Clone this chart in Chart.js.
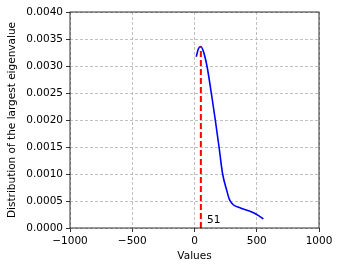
<!DOCTYPE html>
<html>
<head>
<meta charset="utf-8">
<script src="https://cdn.jsdelivr.net/npm/chart.js@4"></script>
<style>
  html, body { margin: 0; padding: 0; background: #fff; }
  #chart { display: block; }
</style>
</head>
<body>
<canvas id="chart" width="341" height="271"></canvas>
<script>
// values
const densityX = [14, 30, 50, 70, 100, 135, 167, 197, 226, 255, 280, 300, 325, 360, 392, 446, 500, 553];
const densityY = [0.00317, 0.00331, 0.00336, 0.00328, 0.00300, 0.00250, 0.00200, 0.00150, 0.00100, 0.00073, 0.00053, 0.00046, 0.00041, 0.00038, 0.00035, 0.00031, 0.00025, 0.00017];
const peakX = 51;
const peakY = 0.00336;
const xTicks = [-1000, -500, 0, 500, 1000];
const yTicks = [0, 0.0005, 0.001, 0.0015, 0.002, 0.0025, 0.003, 0.0035, 0.004];

const font = { family: "DejaVu Sans", size: 10.5 };

// frame around the plot and the peak label
const framePlugin = {
    id: "frame",
    afterDatasetsDraw(chart) {
        const ctx = chart.ctx;
        const a = chart.chartArea;
        const xs = chart.scales.x, ys = chart.scales.y;
        ctx.save();
        ctx.font = "10.5px 'DejaVu Sans'";
        ctx.fillStyle = "#000";
        ctx.textAlign = "left";
        ctx.textBaseline = "bottom";
        ctx.fillText(String(peakX), xs.getPixelForValue(peakX + 50), ys.getPixelForValue(0.00005));
        ctx.strokeStyle = "#000";
        ctx.lineWidth = 0.8;
        ctx.strokeRect(a.left, a.top, a.right - a.left, a.bottom - a.top);
        ctx.restore();
    }
};

new Chart(document.getElementById("chart"), {
    type: "scatter",
    data: {
        datasets: [
            {
                data: [{ x: peakX, y: 0 }, { x: peakX, y: peakY }],
                showLine: true,
                borderColor: "#ff0000",
                borderWidth: 2,
                borderDash: [6, 3],
                pointRadius: 0
            },
            {
                data: densityX.map((x, i) => ({ x: x, y: densityY[i] })),
                showLine: true,
                borderColor: "#0000ff",
                borderWidth: 1.6,
                cubicInterpolationMode: "monotone",
                pointRadius: 0
            }
        ]
    },
    options: {
        responsive: false,
        animation: false,
        devicePixelRatio: 1,
        layout: { padding: { top: 12, right: 22, left: 0, bottom: 0 } },
        plugins: { legend: { display: false }, tooltip: { enabled: false } },
        scales: {
            x: {
                type: "linear",
                min: -1000,
                max: 1000,
                afterBuildTicks(scale) { scale.ticks = xTicks.map(v => ({ value: v })); },
                afterFit(scale) { scale.height = 43; },
                ticks: {
                    font: font,
                    color: "#000",
                    padding: 3,
                    maxRotation: 0,
                    callback: v => v < 0 ? "\u2212" + Math.abs(v) : String(v)
                },
                grid: { color: "#b0b0b0", lineWidth: 0.8, tickColor: "#000", tickLength: 4, tickWidth: 0.8 },
                border: { display: false, dash: [3, 2] },
                title: { display: true, text: "Values", font: font, color: "#000", padding: { top: 0, bottom: 8 } }
            },
            y: {
                type: "linear",
                min: 0,
                max: 0.004,
                afterBuildTicks(scale) { scale.ticks = yTicks.map(v => ({ value: v })); },
                afterFit(scale) { scale.width = 70; },
                ticks: {
                    font: font,
                    color: "#000",
                    padding: 3,
                    callback: v => v.toFixed(4)
                },
                grid: { color: "#b0b0b0", lineWidth: 0.8, tickColor: "#000", tickLength: 4, tickWidth: 0.8 },
                border: { display: false, dash: [3, 2] },
                title: { display: true, text: "Distribution of the largest eigenvalue", font: font, color: "#000", padding: { top: 6, bottom: 0 } }
            }
        }
    },
    plugins: [framePlugin]
});
</script>
</body>
</html>
